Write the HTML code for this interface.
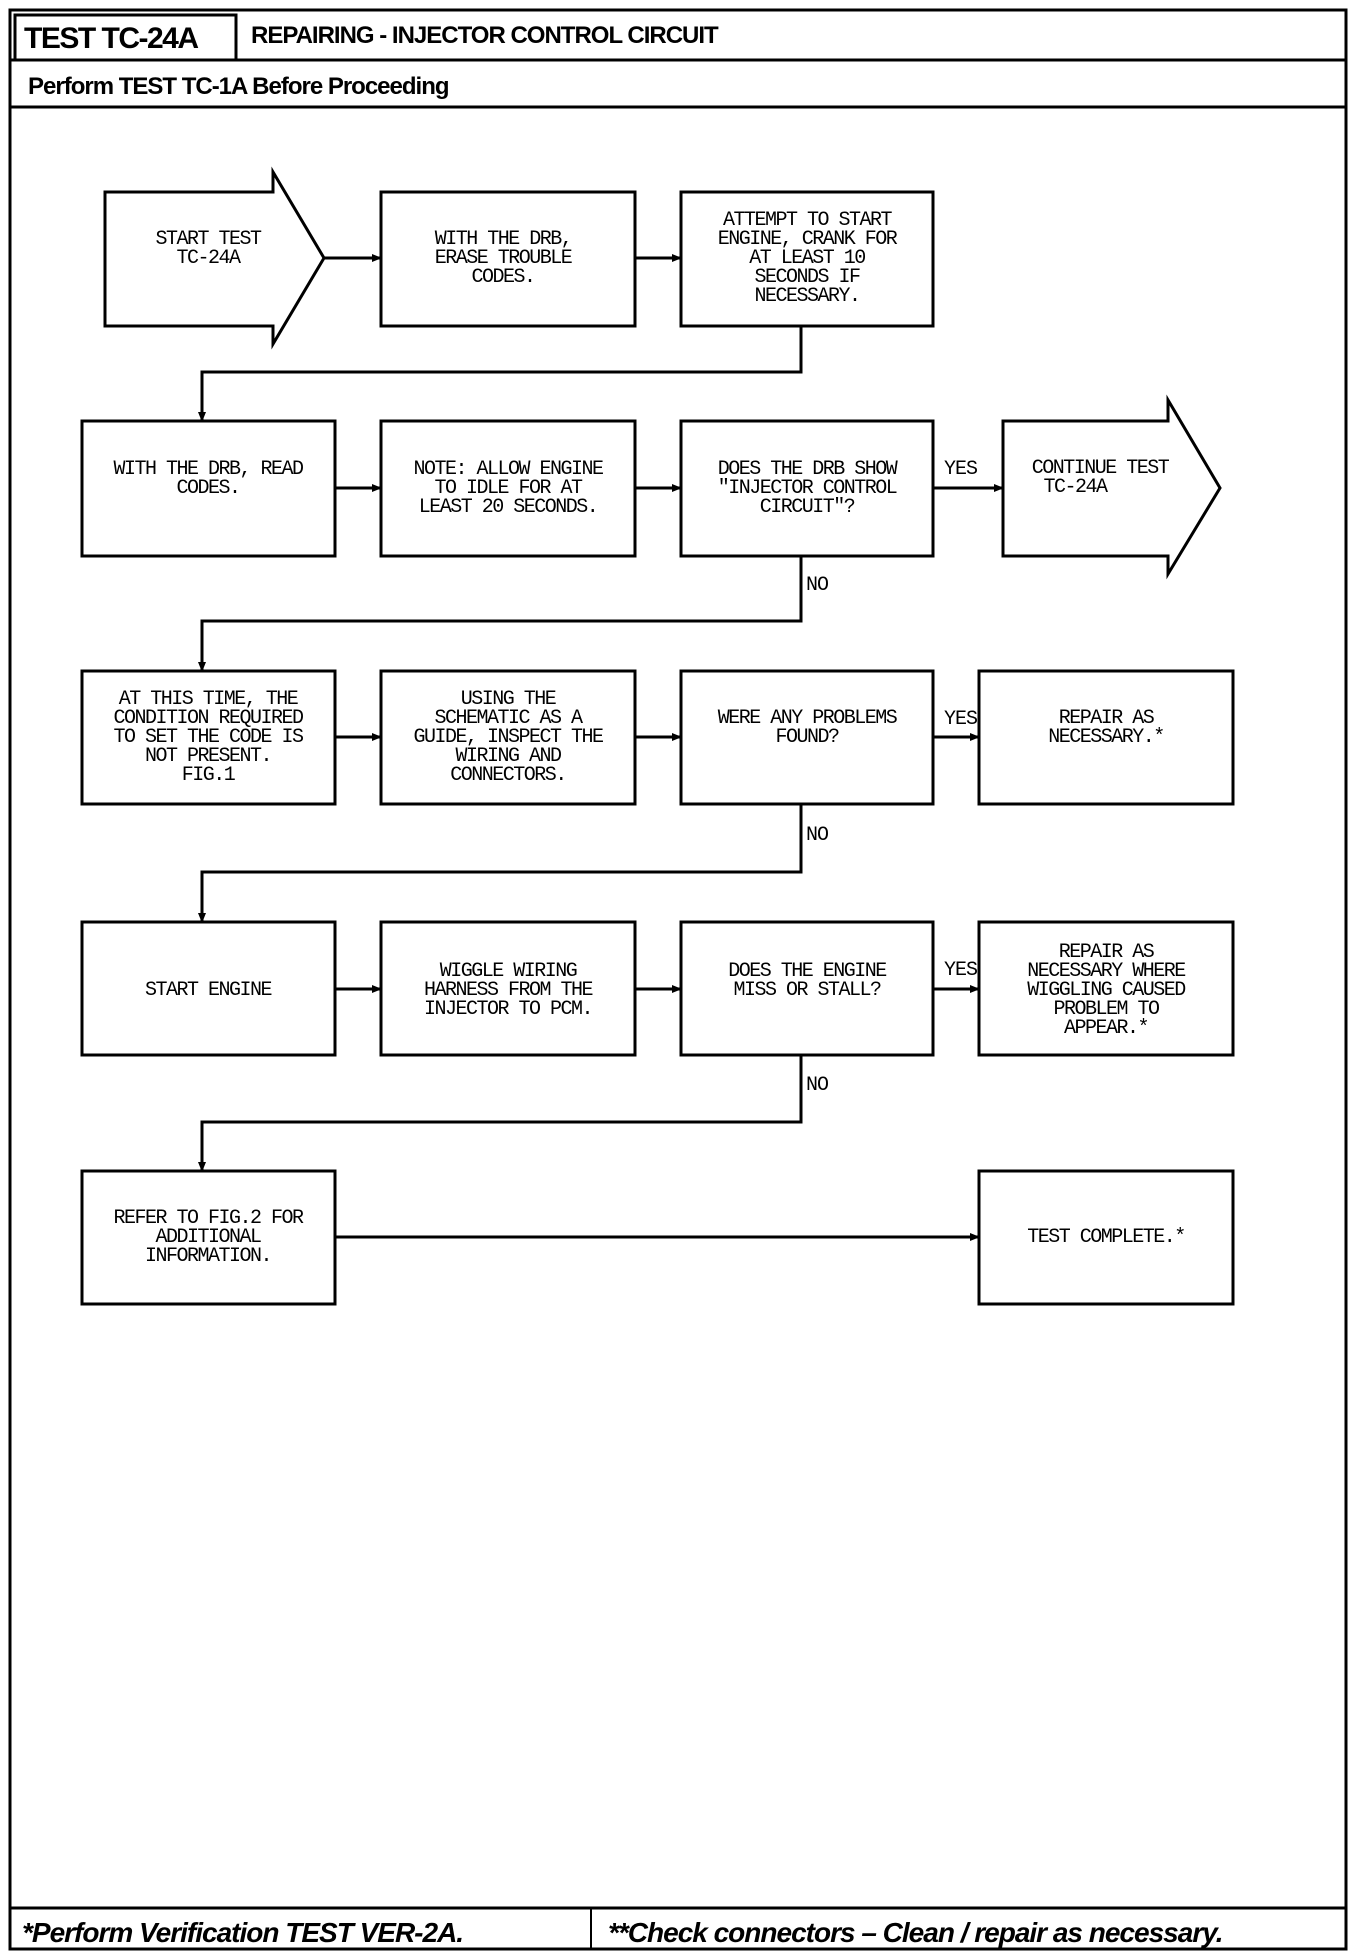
<!DOCTYPE html>
<html><head><meta charset="utf-8"><style>
html,body{margin:0;padding:0;background:#fff;}
svg{display:block}
.t{font-family:"Liberation Mono",monospace;font-size:20px;text-anchor:middle;fill:#000;letter-spacing:-1.5px}
.l{font-family:"Liberation Mono",monospace;font-size:20px;fill:#000;letter-spacing:-1px}
</style></head><body>
<svg width="1360" height="1952" viewBox="0 0 1360 1952" xmlns="http://www.w3.org/2000/svg">
<defs><marker id="a" markerWidth="10" markerHeight="8" refX="9" refY="4" orient="auto" markerUnits="userSpaceOnUse"><path d="M0,0 L10,4 L0,8 z" fill="#000"/></marker></defs>
<g fill="none" stroke="#000" stroke-width="3">
<rect x="10" y="10" width="1336" height="1939"/>
<line x1="10" y1="60" x2="1346" y2="60"/>
<rect x="15" y="15" width="221" height="45"/>
<line x1="10" y1="107" x2="1346" y2="107"/>
<line x1="10" y1="1908" x2="1346" y2="1908"/>
<line x1="591" y1="1908" x2="591" y2="1949" stroke-width="2"/>
<!-- row1 -->
<path d="M105,192 H273 V172 L324,258 L273,344 V326 H105 Z"/>
<rect x="381" y="192" width="254" height="134"/>
<rect x="681" y="192" width="252" height="134"/>
<!-- row2 -->
<rect x="82" y="421" width="253" height="135"/>
<rect x="381" y="421" width="254" height="135"/>
<rect x="681" y="421" width="252" height="135"/>
<path d="M1003,421 H1168 V400 L1220,488 L1168,574 V556 H1003 Z"/>
<!-- row3 -->
<rect x="82" y="671" width="253" height="133"/>
<rect x="381" y="671" width="254" height="133"/>
<rect x="681" y="671" width="252" height="133"/>
<rect x="979" y="671" width="254" height="133"/>
<!-- row4 -->
<rect x="82" y="922" width="253" height="133"/>
<rect x="381" y="922" width="254" height="133"/>
<rect x="681" y="922" width="252" height="133"/>
<rect x="979" y="922" width="254" height="133"/>
<!-- row5 -->
<rect x="82" y="1171" width="253" height="133"/>
<rect x="979" y="1171" width="254" height="133"/>
</g>
<g fill="none" stroke="#000" stroke-width="3" marker-end="url(#a)">
<line x1="324" y1="258" x2="381" y2="258"/>
<line x1="635" y1="258" x2="681" y2="258"/>
<path d="M801,326 V372 H202 V421"/>
<line x1="335" y1="488" x2="381" y2="488"/>
<line x1="635" y1="488" x2="681" y2="488"/>
<line x1="933" y1="488" x2="1003" y2="488"/>
<path d="M801,556 V621 H202 V671"/>
<line x1="335" y1="737" x2="381" y2="737"/>
<line x1="635" y1="737" x2="681" y2="737"/>
<line x1="933" y1="737" x2="979" y2="737"/>
<path d="M801,804 V872 H202 V922"/>
<line x1="335" y1="989" x2="381" y2="989"/>
<line x1="635" y1="989" x2="681" y2="989"/>
<line x1="933" y1="989" x2="979" y2="989"/>
<path d="M801,1055 V1122 H202 V1171"/>
<line x1="335" y1="1237" x2="979" y2="1237"/>
</g>
<g font-family="'Liberation Sans',sans-serif" font-weight="bold" fill="#000">
<text x="24" y="48" font-size="30" letter-spacing="-1.5">TEST TC-24A</text>
<text x="251" y="43" font-size="24" letter-spacing="-1">REPAIRING - INJECTOR CONTROL CIRCUIT</text>
<text x="28" y="94" font-size="24" letter-spacing="-1">Perform TEST TC-1A Before Proceeding</text>
<text x="22" y="1942" font-size="28" font-style="italic" letter-spacing="-1">*Perform Verification TEST VER-2A.</text>
<text x="608" y="1942" font-size="28" font-style="italic" letter-spacing="-1">**Check connectors – Clean / repair as necessary.</text>
</g>
<g class="t">
<text class="t" x="208"><tspan x="208" y="244">START TEST</tspan><tspan x="208" y="263">TC-24A</tspan></text>
<text class="t"><tspan x="503" y="244">WITH THE DRB,</tspan><tspan x="503" y="263">ERASE TROUBLE</tspan><tspan x="503" y="282">CODES.</tspan></text>
<text class="t"><tspan x="807" y="225">ATTEMPT TO START</tspan><tspan x="807" y="244">ENGINE, CRANK FOR</tspan><tspan x="807" y="263">AT LEAST 10</tspan><tspan x="807" y="282">SECONDS IF</tspan><tspan x="807" y="301">NECESSARY.</tspan></text>
<text class="t"><tspan x="208" y="474">WITH THE DRB, READ</tspan><tspan x="208" y="493">CODES.</tspan></text>
<text class="t"><tspan x="508" y="474">NOTE: ALLOW ENGINE</tspan><tspan x="508" y="493">TO IDLE FOR AT</tspan><tspan x="508" y="512">LEAST 20 SECONDS.</tspan></text>
<text class="t"><tspan x="807" y="474">DOES THE DRB SHOW</tspan><tspan x="807" y="493">"INJECTOR CONTROL</tspan><tspan x="807" y="512">CIRCUIT"?</tspan></text>
<text class="t"><tspan x="1100" y="473">CONTINUE TEST</tspan><tspan x="1075" y="492">TC-24A</tspan></text>
<text class="t"><tspan x="208" y="704">AT THIS TIME, THE</tspan><tspan x="208" y="723">CONDITION REQUIRED</tspan><tspan x="208" y="742">TO SET THE CODE IS</tspan><tspan x="208" y="761">NOT PRESENT.</tspan><tspan x="208" y="780">FIG.1</tspan></text>
<text class="t"><tspan x="508" y="704">USING THE</tspan><tspan x="508" y="723">SCHEMATIC AS A</tspan><tspan x="508" y="742">GUIDE, INSPECT THE</tspan><tspan x="508" y="761">WIRING AND</tspan><tspan x="508" y="780">CONNECTORS.</tspan></text>
<text class="t"><tspan x="807" y="723">WERE ANY PROBLEMS</tspan><tspan x="807" y="742">FOUND?</tspan></text>
<text class="t"><tspan x="1106" y="723">REPAIR AS</tspan><tspan x="1106" y="742">NECESSARY.*</tspan></text>
<text class="t"><tspan x="208" y="995">START ENGINE</tspan></text>
<text class="t"><tspan x="508" y="976">WIGGLE WIRING</tspan><tspan x="508" y="995">HARNESS FROM THE</tspan><tspan x="508" y="1014">INJECTOR TO PCM.</tspan></text>
<text class="t"><tspan x="807" y="976">DOES THE ENGINE</tspan><tspan x="807" y="995">MISS OR STALL?</tspan></text>
<text class="t"><tspan x="1106" y="957">REPAIR AS</tspan><tspan x="1106" y="976">NECESSARY WHERE</tspan><tspan x="1106" y="995">WIGGLING CAUSED</tspan><tspan x="1106" y="1014">PROBLEM TO</tspan><tspan x="1106" y="1033">APPEAR.*</tspan></text>
<text class="t"><tspan x="208" y="1223">REFER TO FIG.2 FOR</tspan><tspan x="208" y="1242">ADDITIONAL</tspan><tspan x="208" y="1261">INFORMATION.</tspan></text>
<text class="t"><tspan x="1106" y="1242">TEST COMPLETE.*</tspan></text>
</g>
<text class="l" x="944" y="474">YES</text>
<text class="l" x="806" y="590">NO</text>
<text class="l" x="944" y="724">YES</text>
<text class="l" x="806" y="840">NO</text>
<text class="l" x="944" y="975">YES</text>
<text class="l" x="806" y="1090">NO</text>
</svg>
</body></html>
